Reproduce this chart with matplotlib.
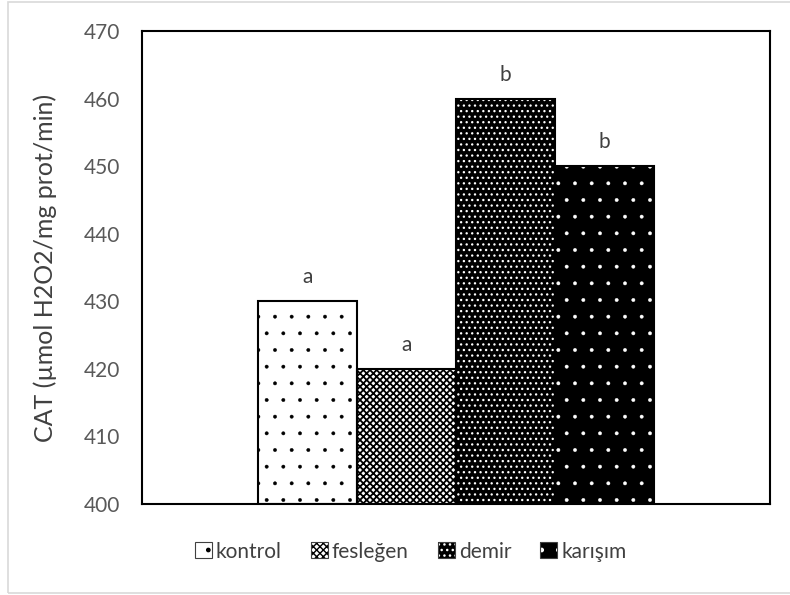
import matplotlib as mpl
import matplotlib.pyplot as plt
from matplotlib.patches import Rectangle
from matplotlib.legend_handler import HandlerTuple

# data
groups = ['kontrol', 'fesleğen', 'demir', 'karışım']
values = [430, 420, 460, 450]
letters = ['a', 'a', 'b', 'b']

faces = ['white', 'white', 'black', 'black']
hatch_colors = ['black', 'black', 'white', 'white']
hatches = ['.', 'xxxxx', '...', '.']
hatch_lws = [0.3, 1.3, 0.9, 0.3]

plt.rcParams['font.family'] = ['Lato', 'DejaVu Sans']

fig = plt.figure(figsize=(7.9, 5.95), dpi=100)
ax = fig.add_axes([142/790, 1-504/595, (770-142)/790, (504-31)/595])

# light border around chart area
fig.patches.append(Rectangle((8/790, 2/595), 1.2, 591/595, transform=fig.transFigure,
                             fill=False, edgecolor='#d9d9d9', linewidth=1.2))

def hatched(p, i):
    if hasattr(p, 'set_hatch_linewidth'):
        p.set_hatch_linewidth(hatch_lws[i])

w = 99/628
handles = []
for i, g in enumerate(groups):
    x = 1 + (i - 1.5) * w
    with plt.rc_context({'hatch.linewidth': hatch_lws[i]}):
        b = ax.bar(x, values[i] - 400, bottom=400, width=w, color=faces[i],
                   edgecolor=hatch_colors[i], hatch=hatches[i], linewidth=0)
        hatched(b[0], i)
        h1 = Rectangle((0, 0), 1, 1, facecolor=faces[i], edgecolor=hatch_colors[i],
                       hatch=hatches[i], linewidth=0)
        hatched(h1, i)
    ax.bar(x, values[i] - 400, bottom=400, width=w, fill=False,
           edgecolor='black', linewidth=1.5)
    ax.annotate(letters[i], (x, values[i]), xytext=(0, 10), textcoords='offset points',
                ha='center', va='bottom', fontsize=15, color='#404040')
    h2 = Rectangle((0, 0), 1, 1, fill=False, edgecolor='#404040', linewidth=0.8)
    handles.append((h1, h2))

ax.set_xlim(0.5, 1.5)
ax.set_ylim(400, 470)
ax.set_yticks(range(400, 471, 10))
ax.set_xticks([])
ax.tick_params(axis='y', length=0, labelsize=15, labelcolor='#595959', pad=16)
for s in ax.spines.values():
    s.set_linewidth(1.5)
    s.set_color('black')
ax.set_ylabel('CAT (µmol H2O2/mg prot/min)', fontsize=18, color='#404040', labelpad=19)

leg = fig.legend(handles, groups, loc='center', bbox_to_anchor=(0.52, 0.073), ncol=4,
                 frameon=False, fontsize=15, handlelength=0.8, handleheight=0.8,
                 handletextpad=0.2, columnspacing=1.4, labelcolor='#404040',
                 handler_map={tuple: HandlerTuple(ndivide=1, pad=0)})

plt.savefig('out.png', dpi=100)
